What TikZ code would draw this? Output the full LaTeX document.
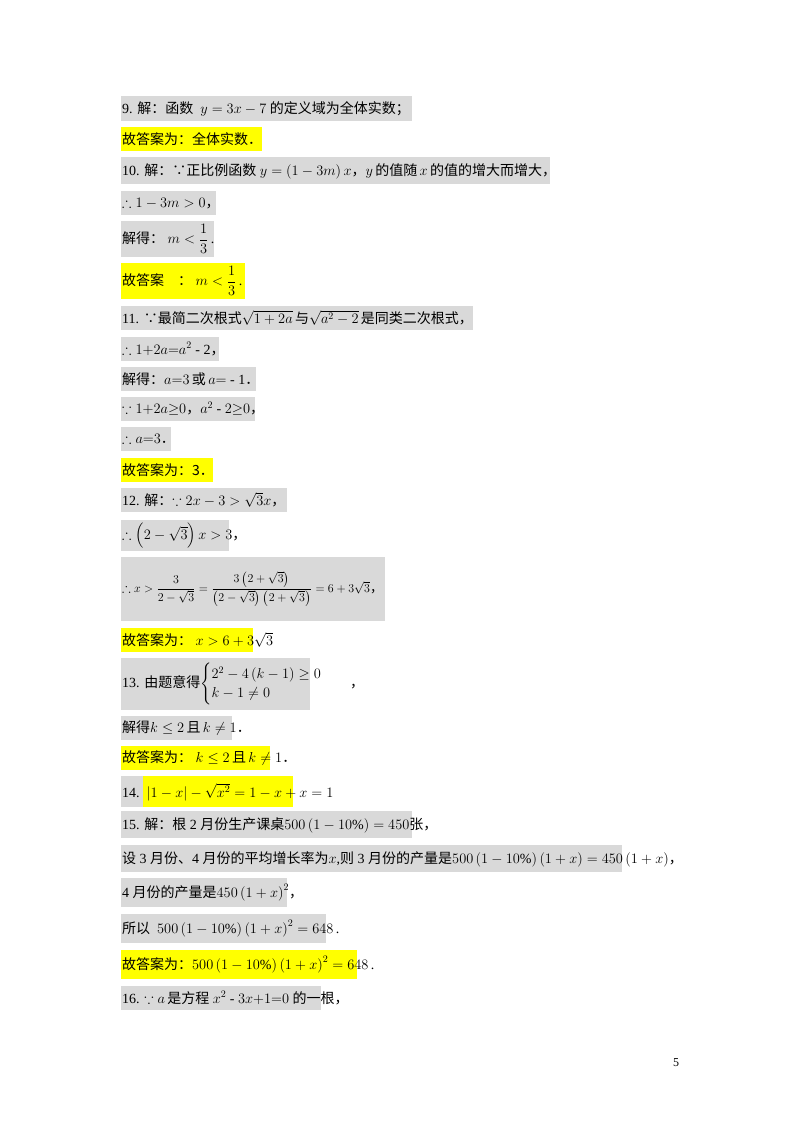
\documentclass[tikz,border=0pt]{standalone}
\usepackage{amsmath,amssymb}
\usepackage{fontspec}
\setmainfont{Liberation Serif}
\newfontfamily\zhf{Noto Sans CJK SC}
\newcommand{\zh}[1]{{\zhf #1}}
\newcommand{\zc}{\zh{，}}
\newcommand{\zp}{\zh{．}}
\definecolor{gbox}{HTML}{D9D9D9}
\definecolor{ybox}{HTML}{FFFF00}
\tikzset{
  gb/.style={fill=gbox},
  yb/.style={fill=ybox},
  tx/.style={anchor=west,inner sep=0pt,font=\fontsize{14}{16}\selectfont}
}
\begin{document}
\begin{tikzpicture}[x=1pt,y=-1pt]
\useasboundingbox[fill=white] (0,0) rectangle (800,1132);
% boxes
\fill[gb] (121,96) rectangle (412,121);
\fill[yb] (121,127) rectangle (262,151);
\fill[gb] (121,157) rectangle (550,184);
\fill[gb] (121,191) rectangle (216,215);
\fill[gb] (121,221) rectangle (214,257);
\fill[yb] (121,263) rectangle (245,299);
\fill[gb] (121,306) rectangle (473,330);
\fill[gb] (121,337) rectangle (219,361);
\fill[gb] (121,367) rectangle (256,391);
\fill[gb] (121,397) rectangle (255,421);
\fill[gb] (121,427) rectangle (171,451);
\fill[yb] (121,458) rectangle (213,482);
\fill[gb] (121,488) rectangle (287,512);
\fill[gb] (121,520) rectangle (229,551);
\fill[gb] (121,557) rectangle (385,621);
\fill[yb] (121,628) rectangle (253,652);
\fill[gb] (121,658) rectangle (310,710);
\fill[gb] (121,716) rectangle (232,740);
\fill[yb] (121,746) rectangle (270,770);
\fill[gb] (121,776) rectangle (143,807);
\fill[yb] (143,776) rectangle (293,807);
\fill[gb] (121,811) rectangle (412,838);
\fill[gb] (121,845) rectangle (622,872);
\fill[gb] (121,878) rectangle (287,907);
\fill[gb] (121,914) rectangle (326,943);
\fill[yb] (121,950) rectangle (357,979);
\fill[gb] (121,986) rectangle (321,1010);
% texts
\node[tx] (t9) at (122,109) {9. \zh{解：函数} \ $y=3x-7$ \zh{的定义域为全体实数；}};
\node[tx] (a9) at (122,139) {\zh{故答案为：全体实数．}};
\node[tx] (t10) at (122,171) {10. \zh{解：∵正比例函数} $y=\left(1-3m\right)x$\zc$y$\,\zh{的值随}\,$x$\,\zh{的值的增大而增大，}};
\node[tx] (t10b) at (122,203) {$\therefore 1-3m>0$\zc};
\node[tx] (t10c) at (122,239) {\zh{解得：} $m<\dfrac{1}{3}$\,.};
\node[tx] (a10) at (122,281) {\zh{故答案}\quad\zh{：} $m<\dfrac{1}{3}$\,.};
\node[tx] (t11) at (122,318) {11. \zh{∵最简二次根式}$\sqrt{1+2a}$\,\zh{与}$\sqrt{a^2-2}$\,\zh{是同类二次根式，}};
\node[tx] (t11b) at (122,349) {$\therefore 1{+}2a{=}a^2$ - 2\zc};
\node[tx] (t11c) at (122,379) {\zh{解得：}$a{=}3$\,\zh{或}\,$a{=}$ - 1\zp};
\node[tx] (t11d) at (122,409) {$\because 1{+}2a{\geq}0$\zc$a^2$ - $2{\geq}0$\zc};
\node[tx] (t11e) at (122,439) {$\therefore a{=}3$\zp};
\node[tx] (a11) at (122,470) {\zh{故答案为：3．}};
\node[tx] (t12) at (122,500) {12. \zh{解：}$\because 2x-3>\sqrt{3}x$\zc};
\node[tx] (t12b) at (122,536) {$\therefore \left(2-\sqrt{3}\right)x>3$\zc};
\node[tx,font=\fontsize{13}{15}\selectfont] (t12c) at (122,589) {$\therefore x>\dfrac{3}{2-\sqrt{3}}=\dfrac{3\left(2+\sqrt{3}\right)}{\left(2-\sqrt{3}\right)\left(2+\sqrt{3}\right)}=6+3\sqrt{3}$\zc};
\node[tx] (a12) at (122,640) {\zh{故答案为：}\ $x>6+3\sqrt{3}$};
\node[tx] (t13) at (122,684) {13. \zh{由题意得}$\begin{cases}2^2-4\left(k-1\right)\geq 0\\ k-1\neq 0\end{cases}$\quad\zc};
\node[tx] (t13b) at (122,728) {\zh{解得}$k\leq 2$\,\zh{且}\,$k\neq 1$\zp};
\node[tx] (a13) at (122,758) {\zh{故答案为：}\ $k\leq 2$\,\zh{且}\,$k\neq 1$\zp};
\node[tx] (t14) at (122,792) {14.\ \ $\left|1-x\right|-\sqrt{x^2}=1-x+x=1$};
\node[tx] (t15) at (122,825) {15. \zh{解：根} 2 \zh{月份生产课桌}$500\left(1-10\%\right)=450$\zh{张，}};
\node[tx] (t15b) at (122,859) {\zh{设} 3 \zh{月份、}4 \zh{月份的平均增长率为}$x$,\zh{则} 3 \zh{月份的产量是}$500\left(1-10\%\right)(1+x)=450\left(1+x\right)$\zc};
\node[tx] (t15c) at (122,893) {4 \zh{月份的产量是}$450\left(1+x\right)^2$\zc};
\node[tx] (t15d) at (122,929) {\zh{所以}\ \ $500\left(1-10\%\right)\left(1+x\right)^2=648$\,.};
\node[tx] (a15) at (122,965) {\zh{故答案为：}$500\left(1-10\%\right)\left(1+x\right)^2=648$\,.};
\node[tx] (t16) at (122,998) {16. $\because a$\,\zh{是方程} $x^2$ - $3x{+}1{=}0$ \zh{的一根，}};
\node[anchor=center,inner sep=0pt,font=\fontsize{12}{14}\selectfont] (pg) at (676,1063) {5};
\end{tikzpicture}
\end{document}
